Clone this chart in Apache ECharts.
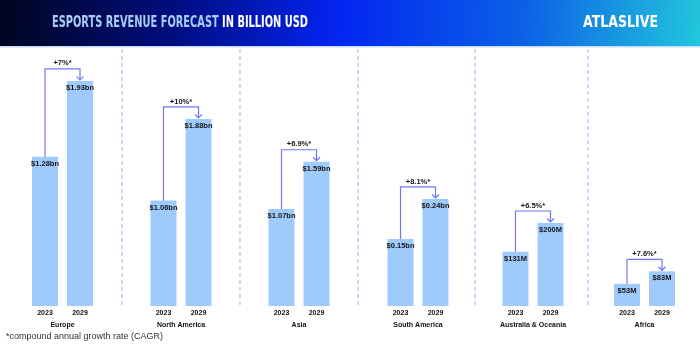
<!DOCTYPE html>
<html>
<head>
<meta charset="utf-8">
<script src="https://cdn.jsdelivr.net/npm/echarts@6/dist/echarts.min.js"></script>
<style>
  html, body { margin: 0; padding: 0; background: #fff; }
  #chart { width: 700px; height: 350px; }
</style>
</head>
<body>
<div id="chart"></div>
<script>
// data
const regions = ['Europe', 'North America', 'Asia', 'South America', 'Australia & Oceania', 'Africa']
const years = ['2023', '2029']
const revenue2023 = [1.28, 1.06, 1.07, 0.15, 0.131, 0.053] // billion USD
const revenue2029 = [1.93, 1.88, 1.59, 0.24, 0.200, 0.083]
const labels2023 = ['$1.28bn', '$1.06bn', '$1.07bn', '$0.15bn', '$131M', '$53M']
const labels2029 = ['$1.93bn', '$1.88bn', '$1.59bn', '$0.24bn', '$200M', '$83M']
const cagr = ['+7%*', '+10%*', '+6.9%*', '+8.1%*', '+6.5%*', '+7.6%*']

// layout: every region has its own scale in the original
const groupCenters = [62.5, 181, 299, 418, 533, 644.5]
const axisMax = [2.195, 2.573, 2.822, 0.574, 0.617, 0.612]
const separators = [122, 240, 358, 475, 588]

const barColor = '#9fcafc'
const bracketColor = '#6f78f2'
const font = '"Liberation Sans", Arial, sans-serif'

// squeeze header texts into the width they have in the original
const measure = (text, f) => {
  const ctx = document.createElement('canvas').getContext('2d')
  ctx.font = f
  return ctx.measureText(text).width
}
const titleFont = 'bold 15px "DejaVu Sans Condensed", "DejaVu Sans", sans-serif'
const titleA = 'ESPORTS REVENUE FORECAST'
const titleB = ' IN BILLION USD'
const titleScale = 256 / measure(titleA + titleB, titleFont)
const logoScale = 75 / measure('ATLASLIVE', titleFont)

const chart = echarts.init(document.getElementById('chart'))

const grid = [], xAxis = [], yAxis = [], series = []
regions.forEach((name, i) => {
  grid.push({ left: groupCenters[i] - 35, width: 70, top: 50, bottom: 44 })
  xAxis.push({
    type: 'category',
    gridIndex: i,
    data: years,
    axisLine: { show: false },
    axisTick: { show: false },
    axisLabel: { fontSize: 7, fontWeight: 'bold', color: '#111', margin: 4, fontFamily: font },
    name: name,
    nameLocation: 'middle',
    nameGap: 10,
    nameTextStyle: { fontSize: 7, fontWeight: 'bold', color: '#111', fontFamily: font }
  })
  yAxis.push({ type: 'value', gridIndex: i, min: 0, max: axisMax[i], show: false })
  series.push({
    type: 'bar',
    xAxisIndex: i,
    yAxisIndex: i,
    barWidth: 26,
    data: [revenue2023[i], revenue2029[i]],
    itemStyle: { color: barColor },
    emphasis: { disabled: true },
    label: {
      show: true,
      position: 'insideTop',
      distance: 3,
      fontSize: 7.5,
      fontWeight: 'bold',
      color: '#151515',
      fontFamily: font,
      formatter: (p) => (p.dataIndex === 0 ? labels2023[i] : labels2029[i])
    }
  })
  // growth bracket from the 2023 bar to the 2029 bar
  series.push({
    type: 'custom',
    xAxisIndex: i,
    yAxisIndex: i,
    clip: false,
    silent: true,
    z: 5,
    data: [[0, revenue2023[i], revenue2029[i]]],
    encode: { x: 0, y: [1, 2] },
    renderItem: (params, api) => {
      const p0 = api.coord([0, api.value(1)])
      const p1 = api.coord([1, api.value(2)])
      const top = Math.min(p0[1], p1[1]) - 12
      const tip = p1[1] - 1
      return {
        type: 'group',
        children: [
          {
            type: 'polyline',
            shape: { points: [[p0[0], p0[1]], [p0[0], top], [p1[0], top], [p1[0], tip]] },
            style: { stroke: bracketColor, lineWidth: 1.2, fill: null }
          },
          {
            type: 'polyline',
            shape: { points: [[p1[0] - 3.5, tip - 3.5], [p1[0], tip], [p1[0] + 3.5, tip - 3.5]] },
            style: { stroke: bracketColor, lineWidth: 1.2, fill: null }
          },
          {
            type: 'text',
            style: {
              text: cagr[i],
              x: (p0[0] + p1[0]) / 2,
              y: top - 1.5,
              align: 'center',
              verticalAlign: 'bottom',
              font: 'bold 7.5px ' + font,
              fill: '#151515'
            }
          }
        ]
      }
    }
  })
})

const graphic = [
  {
    type: 'rect',
    shape: { x: 0, y: 0, width: 700, height: 46 },
    style: {
      fill: new echarts.graphic.LinearGradient(0, 0, 1, 1, [
        { offset: 0, color: '#00061e' },
        { offset: 0.25, color: '#000d80' },
        { offset: 0.48, color: '#0424f2' },
        { offset: 0.75, color: '#0b62e6' },
        { offset: 1, color: '#22c6dc' }
      ])
    },
    silent: true
  },
  {
    type: 'rect',
    shape: { x: 0, y: 46, width: 700, height: 1.5 },
    style: { fill: '#c9dcf6' },
    silent: true
  },
  {
    type: 'text',
    x: 52,
    y: 23,
    scaleX: titleScale,
    style: {
      text: '{a|' + titleA + '}{b|' + titleB + '}',
      verticalAlign: 'middle',
      rich: {
        a: { font: titleFont, fill: '#a6cdf8' },
        b: { font: titleFont, fill: '#ffffff' }
      }
    },
    silent: true
  },
  {
    type: 'text',
    x: 583,
    y: 23,
    scaleX: logoScale,
    style: { text: 'ATLASLIVE', font: titleFont, fill: '#ffffff', verticalAlign: 'middle' },
    silent: true
  },
  {
    type: 'text',
    x: 6,
    y: 337,
    style: {
      text: '*compound annual growth rate (CAGR)',
      font: '9px ' + font,
      fill: '#333',
      verticalAlign: 'middle'
    },
    silent: true
  }
]
separators.forEach((x) => {
  graphic.push({
    type: 'line',
    shape: { x1: x, y1: 49, x2: x, y2: 306 },
    style: { stroke: '#b8bcf6', lineWidth: 1.2, lineDash: [4, 3] },
    silent: true
  })
})

chart.setOption({
  animation: false,
  grid,
  xAxis,
  yAxis,
  series,
  graphic
})
</script>
</body>
</html>
